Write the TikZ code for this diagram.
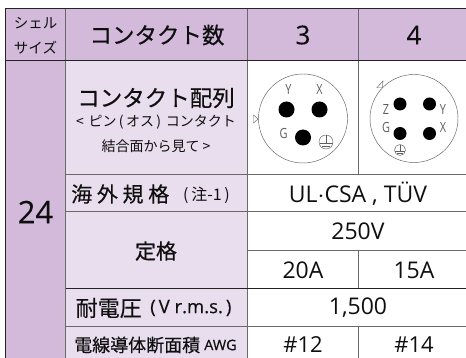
\documentclass[tikz,border=0pt]{standalone}
\usepackage{fontspec}
\setmainfont{Noto Sans CJK JP}
\newfontfamily\med[FakeBold=0.35]{Noto Sans CJK JP}
\newfontfamily\lat{Open Sans}
\newfontfamily\latb[FakeBold=0.3]{Open Sans}
\newfontfamily\pinf[FakeStretch=0.78]{Open Sans}
\definecolor{headfill}{RGB}{211,186,219}
\definecolor{subfill}{RGB}{232,222,238}
\definecolor{gridgrey}{RGB}{105,105,105}
\definecolor{griddark}{RGB}{35,35,35}
\definecolor{ink}{RGB}{15,15,15}
\definecolor{pinline}{RGB}{95,95,95}
\tikzset{
  txt/.style={inner sep=0pt,text=ink,align=center,anchor=center},
  greyline/.style={draw=gridgrey,line width=1pt},
  darkline/.style={draw=griddark,line width=1pt},
  pin/.style={fill=black,draw=none},
  ring/.style={draw=pinline,line width=.45pt},
  pinlabel/.style={inner sep=0pt,text=pinline,font=\pinf\fontsize{14}{14}\selectfont},
}
\begin{document}
\begin{tikzpicture}[x=1pt,y=-1pt]
\useasboundingbox (0,0) rectangle (466,358);
\fill[white] (0,0) rectangle (466,358);
\fill[headfill] (5,9) rectangle (466,61);
\fill[headfill] (5,61) rectangle (65.5,358);
\fill[subfill] (65.5,61) rectangle (247.5,358);
% grid
\draw[greyline] (65.5,9) -- (65.5,358);
\draw[greyline] (247.5,9) -- (247.5,358);
\draw[greyline] (358.5,9) -- (358.5,174.5);
\draw[greyline] (358.5,251) -- (358.5,288);
\draw[greyline] (358.5,326) -- (358.5,358);
\draw[darkline] (5,9) -- (466,9);
\draw[darkline] (5,9) -- (5,358);
\draw[darkline] (5,61) -- (466,61);
\draw[greyline] (65.5,174.5) -- (466,174.5);
\draw[greyline] (65.5,212) -- (466,212);
\draw[greyline] (247.5,251) -- (466,251);
\draw[darkline] (65.5,288.5) -- (466,288.5);
\draw[greyline] (65.5,326) -- (466,326);
% text
\node[txt,font=\fontsize{14.5}{14.5}\selectfont] (shell1) at (35.5,23) {シェル};
\node[txt,font=\fontsize{14.5}{14.5}\selectfont] (shell2) at (35.5,48) {サイズ};
\node[txt,font=\med\fontsize{22.5}{22.5}\selectfont] (cnum) at (157,35) {コンタクト数};
\node[txt,font=\latb\fontsize{26}{26}\selectfont] (c3) at (303,35) {3};
\node[txt,font=\latb\fontsize{26}{26}\selectfont] (c4) at (414,35) {4};
\node[txt,font=\latb\fontsize{31}{31}\selectfont] (s24) at (35.5,212) {24};
\node[txt,font=\med\fontsize{22.5}{22.5}\selectfont] (arr) at (156,98) {コンタクト配列};
\node[txt,font=\fontsize{14}{14}\selectfont] (arr2) at (156,122) {<\,\,ピン\,(\,オス\,)\,\,コンタクト};
\node[txt,font=\fontsize{14}{14}\selectfont] (arr3) at (156,146) {結合面から見て >};
\node[txt,font=\med\fontsize{21}{21}\selectfont,anchor=west] (std) at (71,194) {海 外 規 格};
\node[txt,font=\fontsize{16}{16}\selectfont,anchor=west] (note) at (183,195) {(\,注-1\,)};
\node[txt,font=\med\fontsize{21}{21}\selectfont] (rate) at (156,251) {定格};
\node[txt,font=\med\fontsize{22}{22}\selectfont,anchor=west] (wv) at (75.5,308) {耐電圧};
\node[txt,font=\latb\fontsize{18.5}{18.5}\selectfont,anchor=west] (wv2) at (150,308) {(\,V r.m.s.\,)};
\node[txt,font=\med\fontsize{18}{18}\selectfont,anchor=west] (wire) at (74,345) {電線導体断面積};
\node[txt,font=\latb\fontsize{14.5}{14.5}\selectfont,anchor=west] (awg) at (204,345) {AWG};
\node[txt,font=\lat\fontsize{23}{23}\selectfont] (ul) at (358,194) {UL$\cdot$CSA , TÜV};
\node[txt,font=\lat\fontsize{23}{23}\selectfont] (v250) at (358,231) {250V};
\node[txt,font=\lat\fontsize{23}{23}\selectfont] (a20) at (303,270) {20A};
\node[txt,font=\lat\fontsize{23}{23}\selectfont] (a15) at (414,270) {15A};
\node[txt,font=\lat\fontsize{23}{23}\selectfont] (v1500) at (358,308) {1,500};
\node[txt,font=\lat\fontsize{22}{22}\selectfont] (w12) at (303,344.5) {\#12};
\node[txt,font=\lat\fontsize{22}{22}\selectfont] (w14) at (414,344.5) {\#14};
% 3-contact face
\draw[ring] (303,118.5) circle (44.5);
\fill[pin] (286.5,109.5) circle (8);
\fill[pin] (319.5,109.5) circle (8);
\fill[pin] (303,137.5) circle (8);
\node[pinlabel] (p3y) at (288.5,90) {Y};
\node[pinlabel] (p3x) at (319.5,90) {X};
\node[pinlabel] (p3g) at (283.5,134) {G};
\draw[ring] (326,142) circle (7);
\draw[ring] (326,135.5) -- (326,143) (319.5,143) -- (332.5,143) (322,146) -- (330,146);
\draw[ring] (253.5,115) -- (258,119) -- (253.5,123) -- cycle;
% 4-contact face
\draw[ring] (414,118.5) circle (44);
\fill[pin] (400,104) circle (6.5);
\fill[pin] (429.5,104) circle (6.5);
\fill[pin] (400,133.5) circle (6.5);
\fill[pin] (429.5,133.5) circle (6.5);
\node[pinlabel] (p4z) at (386,110) {Z};
\node[pinlabel] (p4y) at (443,110) {Y};
\node[pinlabel] (p4g) at (386,128) {G};
\node[pinlabel] (p4x) at (443,128) {X};
\draw[ring] (400,150) circle (5.5);
\draw[ring] (400,145) -- (400,151) (395,151) -- (405,151) (397,153.5) -- (403,153.5);
\draw[ring] (377,87.5) -- (383,81) -- (382.5,87.5) -- cycle;
\end{tikzpicture}
\end{document}
